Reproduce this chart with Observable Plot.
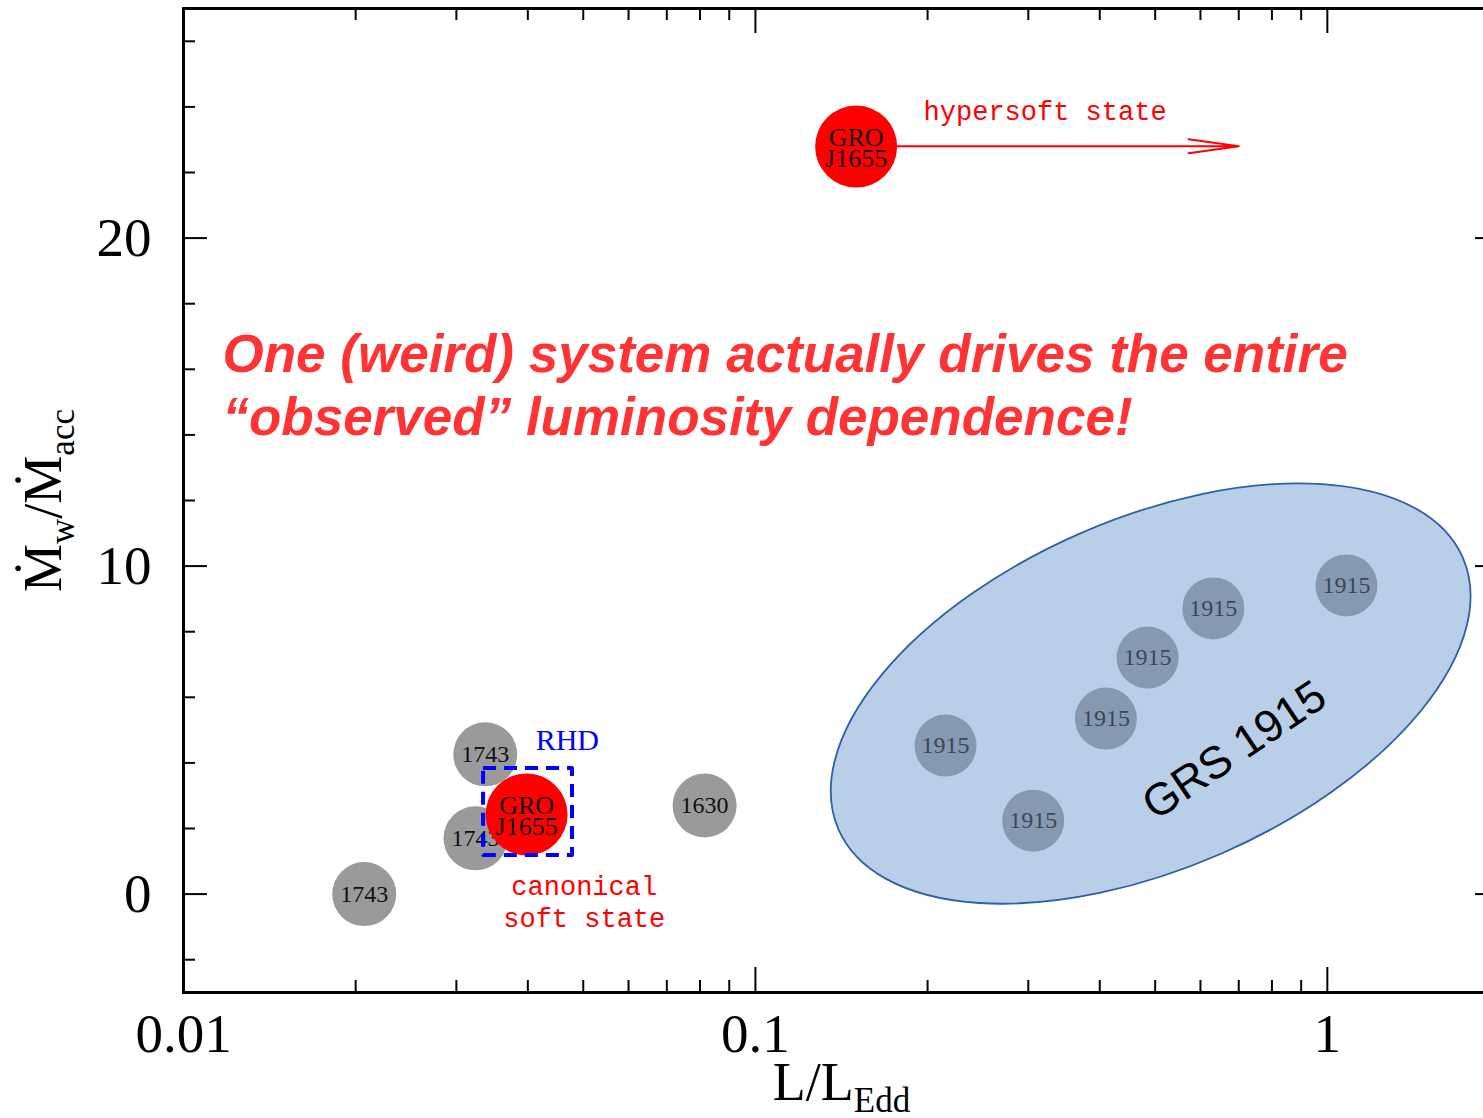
<!DOCTYPE html>
<html>
<head>
<meta charset="utf-8">
<script src="https://cdn.jsdelivr.net/npm/d3@7"></script>
<script src="https://cdn.jsdelivr.net/npm/@observablehq/plot@0.6"></script>
<style>
html, body { margin: 0; padding: 0; overflow: hidden; background: #fff; }
#chart { width: 1500px; height: 1118px; }
#chart svg { display: block; max-width: none !important; width: 1500px !important; height: 1118px !important; }
</style>
</head>
<body>
<div id="chart"></div>
<script>
// ---- ticks ----
const xMajorTicks = [0.01, 0.1, 1];
const xMinorTicks = [0.02, 0.03, 0.04, 0.05, 0.06, 0.07, 0.08, 0.09, 0.2, 0.3, 0.4, 0.5, 0.6, 0.7, 0.8, 0.9];
const yMajorTicks = [0, 10, 20];
const yMinorTicks = [-2, 2, 4, 6, 8, 12, 14, 16, 18, 22, 24, 26];

// ---- gray sources ----
const grayNames = ["1743", "1743", "1743", "1630"];
const grayL = [0.0207, 0.0337, 0.0324, 0.0815];
const grayW = [0.0, 4.26, 1.70, 2.70];

// ---- GRS 1915 points ----
const grsNames = ["1915", "1915", "1915", "1915", "1915", "1915"];
const grsL = [0.215, 0.306, 0.410, 0.485, 0.632, 1.08];
const grsW = [4.53, 2.24, 5.35, 7.21, 8.71, 9.41];

// ---- GRO J1655 points ----
const groNames = ["GRO\nJ1655", "GRO\nJ1655"];
const groL = [0.0398, 0.150];
const groW = [2.43, 22.79];

// ---- annotations ----
const hyperArrowL = [0.150, 0.700];
const hyperArrowW = 22.8;
const hyperText = "hypersoft state";
const hyperTextL = 0.1968, hyperTextW = 23.59;

const rhdBoxL = [0.03347, 0.04788];
const rhdBoxW = [1.18, 3.83];
const rhdText = "RHD";
const rhdTextL = 0.0469, rhdTextW = 4.39;

const canonText = "canonical\nsoft state";
const canonTextL = 0.0502, canonTextW = -1.01;

const noteLines = ["One (weird) system actually drives the entire", "\u201Cobserved\u201D luminosity dependence!"];
const noteL = 0.0117;
const noteW = [15.93, 14.01];

const grsLabel = "GRS 1915";
const grsLabelL = 0.688, grsLabelW = 4.38;

const ellipseCenter = {L: 0.492, W: 6.10};
const ellipseMajorEnd = {L: 1.729, W: 10.24};
const ellipseMinorEnd = {L: 0.652, W: 1.21};

const xLabelParts = [["L/L", false], ["Edd", true]];
const yLabelParts = [["\u1E40", false], ["w", true], ["/\u1E40", false], ["acc", true]];

// ---- tables ----
const grayRows = grayNames.map((n, i) => ({n, L: grayL[i], W: grayW[i]}));
const grsRows = grsNames.map((n, i) => ({n, L: grsL[i], W: grsW[i]}));
const groRows = groNames.map((n, i) => ({n, L: groL[i], W: groW[i]}));
const noteRows = noteLines.map((s, i) => ({s, L: noteL, W: noteW[i]}));
const xLabelPlain = xLabelParts.map(p => p[0]).join("");
const yLabelPlain = yLabelParts.map(p => p[0]).join("");

const W = 1500, H = 1118, mT = 8, mB = 126, mL = 183, mR = 1;
const ph = H - mT - mB, pw = W - mL - mR;

function ellipseMark(index, scales) {
  const x = scales.x, y = scales.y;
  const cx = x(ellipseCenter.L), cy = y(ellipseCenter.W);
  const ax = x(ellipseMajorEnd.L) - cx, ay = y(ellipseMajorEnd.W) - cy;
  const bx = x(ellipseMinorEnd.L) - cx, by = y(ellipseMinorEnd.W) - cy;
  const a = Math.hypot(ax, ay), b = Math.hypot(bx, by);
  const ang = Math.atan2(ay, ax) * 180 / Math.PI;
  return d3.create("svg:ellipse")
    .attr("cx", cx).attr("cy", cy).attr("rx", a).attr("ry", b)
    .attr("transform", `rotate(${ang} ${cx} ${cy})`)
    .attr("fill", "#b8cfe7").attr("stroke", "#2f5fa5").attr("stroke-width", 1.8)
    .node();
}

const tickStyle = {stroke: "black", strokeWidth: 2};

const chart = Plot.plot({
  width: W, height: H,
  marginTop: mT, marginBottom: mB, marginLeft: mL, marginRight: mR,
  x: {type: "log", domain: [0.01, 2]},
  y: {domain: [-3, 27]},
  style: {fontFamily: "Liberation Serif", background: "#fff", overflow: "visible", maxWidth: "none"},
  marks: [
    ellipseMark,
    Plot.arrow([0], {x1: () => hyperArrowL[0], x2: () => hyperArrowL[1], y1: () => hyperArrowW, y2: () => hyperArrowW,
      stroke: "#ff0000", strokeWidth: 2, headAngle: 16, headLength: 38}),
    Plot.text([hyperText], {x: () => hyperTextL, y: () => hyperTextW, text: d => d, textAnchor: "start", lineAnchor: "bottom",
      fontFamily: "Liberation Mono", fontSize: 27, fill: "#ff0000"}),
    Plot.dot(grsRows, {x: "L", y: "W", r: 31, fill: "#8599b1"}),
    Plot.text(grsRows, {x: "L", y: "W", text: "n", fontSize: 24, fill: "#3b4859"}),
    Plot.text([grsLabel], {x: () => grsLabelL, y: () => grsLabelW, text: d => d, rotate: -34,
      fontFamily: "Liberation Sans", fontSize: 45, fill: "#000"}),
    Plot.dot(grayRows, {x: "L", y: "W", r: 32, fill: "#9a9a9a"}),
    Plot.text(grayRows, {x: "L", y: "W", text: "n", fontSize: 24, fill: "#111"}),
    Plot.dot(groRows, {x: "L", y: "W", r: 41, fill: "#ff0000"}),
    Plot.text(groRows, {x: "L", y: "W", text: "n", fontSize: 26, lineHeight: 0.82, dy: 3, fill: "#111"}),
    Plot.rect([0], {x1: () => rhdBoxL[0], x2: () => rhdBoxL[1], y1: () => rhdBoxW[0], y2: () => rhdBoxW[1],
      fill: "none", stroke: "#0000ff", strokeWidth: 4, strokeDasharray: "13,8", strokeLinejoin: "round"}),
    Plot.text([rhdText], {x: () => rhdTextL, y: () => rhdTextW, text: d => d, lineAnchor: "bottom", fontSize: 30, fill: "#0000ff"}),
    Plot.text([canonText], {x: () => canonTextL, y: () => canonTextW, text: d => d, lineAnchor: "bottom", lineHeight: 1.18,
      fontFamily: "Liberation Mono", fontSize: 27, fill: "#ff0000"}),
    Plot.text(noteRows, {x: "L", y: "W", text: "s", textAnchor: "start", lineAnchor: "bottom",
      fontFamily: "Liberation Sans", fontWeight: "bold", fontStyle: "italic", fontSize: 53, fill: "#ff3333"}),
    // ticks (inward) on all four sides
    Plot.ruleX(xMajorTicks, {...tickStyle, insetTop: ph - 25}),
    Plot.ruleX(xMinorTicks, {...tickStyle, insetTop: ph - 12}),
    Plot.ruleX(xMajorTicks, {...tickStyle, insetBottom: ph - 25}),
    Plot.ruleX(xMinorTicks, {...tickStyle, insetBottom: ph - 12}),
    Plot.ruleY(yMajorTicks, {...tickStyle, insetRight: pw - 24}),
    Plot.ruleY(yMinorTicks, {...tickStyle, insetRight: pw - 12}),
    Plot.ruleY(yMajorTicks, {...tickStyle, insetLeft: pw - 24}),
    Plot.ruleY(yMinorTicks, {...tickStyle, insetLeft: pw - 12}),
    Plot.axisX(xMajorTicks, {tickSize: 0, tickPadding: 20, fontSize: 55, fontFamily: "Liberation Serif", tickFormat: d => String(d), label: null}),
    Plot.axisY(yMajorTicks, {tickSize: 0, tickPadding: 32, fontSize: 55, fontFamily: "Liberation Serif", tickFormat: d => String(d), label: null}),
    Plot.text([xLabelPlain], {frameAnchor: "bottom", dy: 107, text: d => d, textAnchor: "middle", lineAnchor: "bottom", fontSize: 54, fill: "#000"}),
    Plot.text([yLabelPlain], {frameAnchor: "left", dx: -123, rotate: -90, text: d => d, textAnchor: "middle", lineAnchor: "bottom", fontSize: 54, fill: "#000"}),
    Plot.frame({stroke: "black", strokeWidth: 3})
  ]
});

function applySubscripts(svg, plain, parts, subSize, shift) {
  const NS = "http://www.w3.org/2000/svg";
  for (const t of svg.querySelectorAll("text")) {
    if (t.textContent !== plain) continue;
    t.textContent = "";
    let shifted = false;
    for (const [s, sub] of parts) {
      const ts = document.createElementNS(NS, "tspan");
      ts.textContent = s;
      if (sub) { ts.setAttribute("font-size", subSize); ts.setAttribute("dy", shift); }
      else if (shifted) ts.setAttribute("dy", -shift);
      shifted = sub;
      t.appendChild(ts);
    }
  }
}
applySubscripts(chart, xLabelPlain, xLabelParts, 35, 12);
applySubscripts(chart, yLabelPlain, yLabelParts, 35, 13);

document.getElementById("chart").appendChild(chart);
</script>
</body>
</html>
